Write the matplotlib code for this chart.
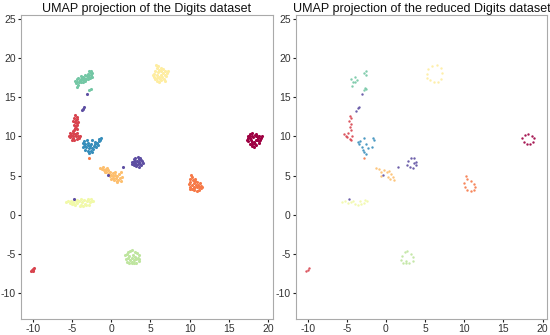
import numpy as np
import matplotlib
matplotlib.use("Agg")
import matplotlib.pyplot as plt

plt.rcParams['font.family'] = ['Liberation Sans', 'DejaVu Sans']

titles = ["UMAP projection of the Digits dataset",
          "UMAP projection of the reduced Digits dataset"]
xticks = [-10, -5, 0, 5, 10, 15, 20]
yticks = [-10, -5, 0, 5, 10, 15, 20, 25]

# ---------------- full dataset (left) ----------------
full_0 = [(17.4,9.8),(17.5,10.1),(17.7,10.3),(18.0,10.4),(18.3,10.2),(18.6,10.0),(18.9,10.1),(19.1,9.8),
          (19.0,9.5),(18.8,9.2),(18.5,8.9),(18.2,8.7),(17.9,8.8),(17.7,9.1),(17.5,9.4),(17.8,9.6),(18.1,9.9),
          (18.4,9.6),(18.2,9.3),(17.9,9.3),(18.6,9.5),(18.4,10.0),(17.7,9.8),(18.0,9.1),(19.2,10.0),(17.3,9.6),
          (18.7,9.8),(18.3,9.0),(18.0,10.1),(18.5,10.3),(17.6,10.0),(18.9,9.4)]
full_1 = [(-4.6,12.7),(-4.4,12.5),(-4.7,12.3),(-4.5,12.1),(-4.3,12.2),(-4.6,11.9),(-4.4,11.7),(-4.7,11.5),
          (-4.5,11.3),(-4.3,11.5),(-4.6,11.1),(-4.4,10.9),(-4.7,10.8),(-5.3,10.4),(-5.1,10.2),(-5.2,9.9),
          (-4.9,10.5),(-4.8,10.1),(-4.9,9.8),(-4.6,10.3),(-4.5,10.0),(-4.4,9.7),(-4.2,10.1),(-4.1,9.8),
          (-4.3,10.4),(-4.0,10.0),(-4.7,9.6),(-5.0,9.6),(-5.4,10.1),(-4.8,10.7),(-4.2,11.9),(-4.8,12.0),
          (-10.2,-7.2),(-10.1,-7.1),(-10.0,-7.0),(-9.9,-6.9),(-9.8,-6.8),(-10.0,-7.15)]
full_2 = [(10.2,5.1),(10.3,4.8),(10.1,4.6),(10.4,4.5),(10.0,4.2),(9.9,3.9),(10.1,3.6),(10.3,3.3),(10.6,3.1),
          (10.9,3.0),(11.2,3.1),(11.4,3.4),(11.5,3.7),(11.3,4.0),(11.0,4.2),(10.7,4.3),(10.5,4.0),(10.3,3.8),
          (10.6,3.6),(10.9,3.5),(11.1,3.8),(10.8,3.8),(10.5,3.4),(11.2,3.5),(10.0,3.3),(11.6,3.6),(10.7,4.6),
          (-2.8,7.3)]
full_3 = [(-1.4,6.0),(-1.2,5.8),(-1.0,6.1),(-0.9,5.7),(-0.7,5.9),(-0.6,5.5),(-0.4,5.7),(-0.3,5.3),(-0.1,5.5),
          (0.0,5.1),(0.2,5.3),(0.3,4.9),(0.5,5.1),(0.6,4.7),(0.8,4.9),(0.9,4.5),(1.1,4.7),(1.2,4.3),(0.7,4.3),
          (0.4,4.5),(1.0,5.2),(0.2,4.7),(-0.2,5.0),(-0.8,5.4),(1.4,4.8),(0.5,5.5),(-0.5,6.0),(0.0,4.6),
          (1.3,5.4),(0.8,4.2)]
full_4 = [(5.4,17.6),(5.6,17.3),(5.8,17.1),(6.1,17.0),(6.4,17.2),(6.7,17.4),(7.0,17.7),(7.1,18.1),(6.9,18.4),
          (6.6,18.6),(6.3,18.8),(6.0,19.0),(5.8,18.7),(5.6,18.3),(5.5,18.0),(5.8,17.8),(6.1,17.6),(6.4,17.8),
          (6.6,18.1),(6.3,18.3),(6.0,18.2),(5.9,17.5),(6.2,17.4),(6.5,17.6),(6.8,17.9),(6.1,18.5),(5.7,19.1),
          (7.2,18.3),(5.3,17.9),(6.8,17.1)]
full_5 = [(-5.7,1.6),(-5.5,1.7),(-5.3,1.5),(-5.1,1.8),(-4.9,1.6),(-4.7,1.4),(-4.5,1.7),(-4.3,1.5),(-4.1,1.8),
          (-3.9,1.3),(-3.7,1.6),(-3.5,1.9),(-3.3,1.4),(-3.1,1.7),(-2.9,2.0),(-2.7,1.6),(-2.5,1.8),(-2.3,1.7),
          (-3.6,1.1),(-3.2,1.2),(-4.0,1.1),(-2.8,1.3),(-4.4,1.9),(-3.0,1.9),(-5.0,1.4),(-3.8,2.0),(-4.6,1.2),
          (-2.6,2.0)]
full_6 = [(1.8,-5.2),(1.9,-5.6),(2.0,-6.0),(2.3,-6.2),(2.6,-6.1),(2.9,-6.2),(3.2,-6.1),(3.5,-5.9),(3.6,-5.6),
          (3.5,-5.2),(3.3,-4.9),(3.0,-4.7),(2.7,-4.5),(2.4,-4.6),(2.1,-4.8),(2.3,-5.3),(2.6,-5.5),(2.9,-5.8),
          (3.1,-5.4),(2.8,-5.1),(2.4,-5.8),(3.2,-5.7),(2.2,-5.5),(2.7,-6.0),(3.4,-5.5),(2.0,-5.0)]
full_7 = [(-4.5,16.8),(-4.3,17.0),(-4.4,17.3),(-4.1,16.9),(-4.0,17.2),(-4.2,17.5),(-3.9,17.4),(-3.8,17.0),
          (-3.7,17.3),(-3.6,17.6),(-3.5,17.2),(-3.4,17.5),(-3.3,17.8),(-3.2,17.4),(-3.1,17.7),(-3.0,18.0),
          (-2.9,17.6),(-2.8,17.9),(-2.7,18.2),(-2.6,17.8),(-2.5,18.1),(-2.6,18.4),(-2.8,18.3),(-3.0,17.3),
          (-3.3,17.1),(-3.6,16.9),(-4.6,17.1),(-4.2,16.6),(-2.4,17.6),(-2.7,17.5),(-3.9,17.7),(-4.3,16.3),
          (-2.6,16.1),(-2.8,15.9)]
full_8 = [(-3.6,9.2),(-3.4,9.4),(-3.3,9.0),(-3.5,8.8),(-3.2,8.6),(-3.0,8.9),(-2.9,9.2),(-3.1,9.5),(-2.8,8.5),
          (-2.7,8.8),(-2.6,8.2),(-2.5,8.5),(-2.4,8.0),(-2.3,8.4),(-2.2,8.8),(-2.0,9.0),(-1.9,8.6),(-1.8,9.2),
          (-1.6,9.4),(-1.5,9.7),(-1.4,9.5),(-1.7,8.9),(-2.1,9.3),(-2.6,9.1),(-3.3,8.3),(-3.0,8.1),(-2.8,7.9),
          (-2.4,9.5),(-3.6,8.6),(-1.3,9.8)]
full_9 = [(2.7,6.5),(2.8,6.8),(2.9,7.1),(3.1,7.3),(3.4,7.4),(3.7,7.2),(3.9,6.9),(4.0,6.6),(3.8,6.3),(3.5,6.1),
          (3.2,6.2),(2.9,6.3),(3.1,6.6),(3.3,6.9),(3.6,6.8),(3.4,6.5),(3.7,6.5),(3.0,6.9),(3.5,7.1),(2.6,6.7),
          (3.2,6.4),(3.8,7.0),(-3.1,15.4),(-3.7,13.4),(-3.5,13.7),(-3.6,13.5),(1.5,6.1),(-0.4,5.1),(-4.7,1.95)]

# ---------------- reduced dataset (right) ----------------
red_0 = [(17.4,9.8),(17.7,10.2),(18.1,10.3),(18.6,10.1),(18.9,9.8),(18.8,9.3),(18.4,9.0),(18.0,9.0),(17.6,9.3)]
red_1 = [(-4.6,12.6),(-4.4,12.3),(-4.7,12.0),(-4.5,11.6),(-4.6,11.2),(-4.4,10.8),(-5.3,10.3),(-5.0,9.9),
         (-4.8,10.4),(-4.6,9.7),(-4.3,10.0),(-4.4,9.6),(-5.1,10.1),(-10.2,-7.2),(-10.0,-7.0),(-9.8,-6.8)]
red_2 = [(10.2,5.0),(10.4,4.6),(10.0,4.0),(10.1,3.6),(10.4,3.2),(10.8,3.0),(11.2,3.1),(11.4,3.5),(11.3,3.9),
         (10.9,4.3),(-2.8,7.3)]
red_3 = [(-1.3,6.0),(-0.9,5.8),(-0.6,5.5),(-0.2,5.7),(0.1,5.4),(0.4,5.6),(0.2,4.8),(0.5,4.6),(0.9,4.8),
         (1.0,4.5),(-0.6,5.0),(0.7,5.2)]
red_4 = [(5.2,18.0),(5.4,18.6),(5.9,19.0),(6.5,19.1),(7.0,18.7),(7.2,18.1),(7.0,17.4),(6.6,17.0),(6.1,16.9),
         (5.6,17.2),(5.3,17.5)]
red_5 = [(-5.6,1.6),(-5.2,1.7),(-4.8,1.5),(-4.4,1.6),(-4.0,1.4),(-3.6,1.3),(-3.2,1.4),(-2.8,1.5),(-2.4,1.7),
         (-2.7,1.9),(-3.3,1.8),(-4.2,1.8)]
red_6 = [(2.0,-5.3),(1.9,-5.8),(2.2,-6.1),(2.6,-6.2),(3.0,-6.1),(3.4,-5.9),(3.5,-5.4),(3.2,-5.0),(2.7,-4.6),
         (2.4,-4.8),(2.6,-5.9)]
red_7 = [(-4.4,17.4),(-4.2,17.0),(-4.0,17.6),(-4.3,16.5),(-3.9,16.9),(-3.7,17.2),(-2.6,18.3),(-2.8,18.1),
         (-2.5,17.8),(-2.7,16.2),(-2.8,15.9),(-2.5,16.1)]
red_8 = [(-3.6,9.3),(-3.4,9.0),(-3.1,8.6),(-2.9,8.3),(-2.8,8.0),(-2.6,7.8),(-2.3,8.5),(-1.8,8.7),(-1.5,9.5),
         (-1.6,9.8),(-2.8,9.8),(-3.3,9.4),(-2.5,9.1)]
red_9 = [(2.7,6.3),(2.8,6.9),(3.2,7.3),(3.6,7.2),(3.9,6.8),(3.8,6.4),(3.4,6.0),(3.1,6.1),(3.6,6.6),
         (-3.8,13.3),(-3.6,13.6),(-3.5,13.8),(-3.1,15.4),(1.5,6.1),(-0.4,5.1),(-4.7,1.95)]

full_sets = [full_0, full_1, full_2, full_3, full_4, full_5, full_6, full_7, full_8, full_9]
reduced_sets = [red_0, red_1, red_2, red_3, red_4, red_5, red_6, red_7, red_8, red_9]

fig = plt.figure(figsize=(5.5, 3.35), dpi=100)
ax1 = fig.add_axes([0.038, 0.048, 0.458, 0.907])
ax2 = fig.add_axes([0.538, 0.048, 0.457, 0.907])
cmap = plt.get_cmap("Spectral")

for ax, sets, title, size, alpha in [(ax1, full_sets, titles[0], 5, 1.0),
                                     (ax2, reduced_sets, titles[1], 3, 0.9)]:
    for digit, pts in enumerate(sets):
        arr = np.array(pts)
        ax.scatter(arr[:, 0], arr[:, 1], s=size, color=cmap(digit / 9), linewidths=0, alpha=alpha)
    ax.set_xlim(-11.5, 20.6)
    ax.set_ylim(-13.3, 25.5)
    ax.set_xticks(xticks)
    ax.set_yticks(yticks)
    ax.set_xticklabels([str(t) for t in xticks])
    ax.set_yticklabels([str(t) for t in yticks])
    ax.tick_params(labelsize=7.5, labelcolor="#333333", color="#222222",
                   length=2.5, width=0.8, pad=1.2)
    for sp in ax.spines.values():
        sp.set_color("#aaaaaa")
        sp.set_linewidth(0.8)
    ax.set_title(title, fontsize=9, color="#111111", pad=2)

fig.savefig("out.png", dpi=100)
